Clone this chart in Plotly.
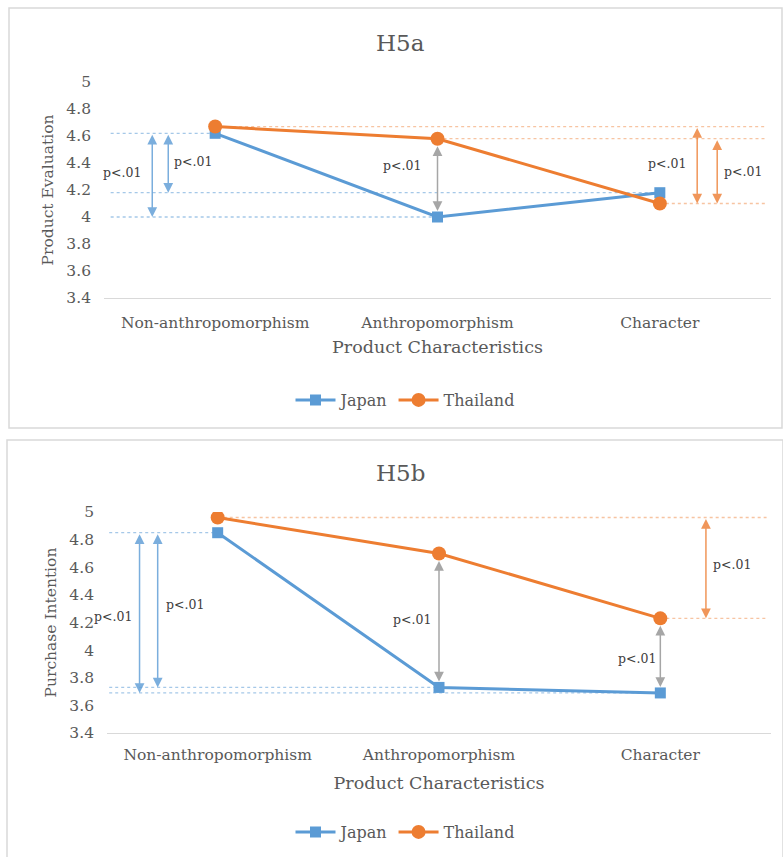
import plotly.graph_objects as go

# ---------------- data ----------------
categories = ["Non-anthropomorphism", "Anthropomorphism", "Character"]
japan_eval = [4.62, 4.00, 4.18]
thailand_eval = [4.67, 4.58, 4.10]
japan_purchase = [4.85, 3.73, 3.69]
thailand_purchase = [4.96, 4.70, 4.23]
y_tick_vals = [3.4, 3.6, 3.8, 4.0, 4.2, 4.4, 4.6, 4.8, 5.0]
y_tick_text = ["3.4", "3.6", "3.8", "4", "4.2", "4.4", "4.6", "4.8", "5"]
series_names = ["Japan", "Thailand"]
panel_titles = ["H5a", "H5b"]
y_titles = ["Product Evaluation", "Purchase Intention"]
x_title = "Product Characteristics"
sig_text = "p<.01"

# ---------------- styling ----------------
W, H = 783, 857
FONT = "DejaVu Serif"
TXT = "#595959"
BLUE = "#5b9bd5"
ORANGE = "#ed7d31"
GREY = "#a6a6a6"
BLUE_DOT = "rgba(91,155,213,0.55)"
ORANGE_DOT = "rgba(237,125,49,0.45)"
BLUE_ARR = "rgba(91,155,213,0.8)"
ORANGE_ARR = "rgba(237,125,49,0.8)"


def xp(px):
    return px / W


def yp(py):
    return 1 - py / H


fig = go.Figure()

panels = [
    dict(xa="x", ya="y", leg="legend", jp=japan_eval, th=thailand_eval),
    dict(xa="x2", ya="y2", leg="legend2", jp=japan_purchase, th=thailand_purchase),
]

for p in panels:
    fig.add_trace(go.Scatter(
        x=categories, y=p["jp"], name=series_names[0], mode="lines+markers",
        line=dict(color=BLUE, width=3), marker=dict(symbol="square", size=11, color=BLUE),
        xaxis=p["xa"], yaxis=p["ya"], legend=p["leg"]))
    fig.add_trace(go.Scatter(
        x=categories, y=p["th"], name=series_names[1], mode="lines+markers",
        line=dict(color=ORANGE, width=3), marker=dict(symbol="circle", size=14, color=ORANGE),
        xaxis=p["xa"], yaxis=p["ya"], legend=p["leg"]))

shapes = []
annotations = []

# panel frames
for (x0, y0, x1, y1) in [(9, 8, 782, 428), (7, 440, 783, 862)]:
    shapes.append(dict(type="rect", xref="paper", yref="paper",
                       x0=xp(x0), x1=xp(x1), y0=yp(y1), y1=yp(y0),
                       line=dict(color="#d9d9d9", width=1.5), fillcolor="white", layer="below"))


def dotted(xa, ya, x0, x1, yv, color):
    shapes.append(dict(type="line", xref=xa, yref=ya, x0=x0, x1=x1, y0=yv, y1=yv,
                       line=dict(color=color, width=1.3, dash="3px,3px"), layer="below"))


def arrow(xa, ya, xv, y_from, y_to, color, stand=0):
    annotations.append(dict(xref=xa, yref=ya, axref=xa, ayref=ya, x=xv, y=y_to, ax=xv, ay=y_from,
                            text="", showarrow=True, arrowside="end+start", arrowhead=2,
                            startarrowhead=2, arrowsize=1.3, startarrowsize=1.3, arrowwidth=1.5,
                            arrowcolor=color, standoff=stand, startstandoff=stand))


def label(xa, ya, xv, yv):
    annotations.append(dict(xref=xa, yref=ya, x=xv, y=yv, text=sig_text, showarrow=False,
                            font=dict(family=FONT, size=12.5, color="#404040")))


RIGHT = 2.48
LEFT_A = -0.47
LEFT_B = -0.49

# ---- panel A (H5a) ----
je, te = japan_eval, thailand_eval
dotted("x", "y", LEFT_A, 0, je[0], BLUE_DOT)
dotted("x", "y", LEFT_A, 2, je[2], BLUE_DOT)
dotted("x", "y", LEFT_A, 1, je[1], BLUE_DOT)
dotted("x", "y", 0, RIGHT, te[0], ORANGE_DOT)
dotted("x", "y", 1, RIGHT, te[1], ORANGE_DOT)
dotted("x", "y", 2, RIGHT, te[2], ORANGE_DOT)
arrow("x", "y", -0.283, je[0], je[1], BLUE_ARR)
arrow("x", "y", -0.211, je[0], je[2], BLUE_ARR)
arrow("x", "y", 1, te[1], je[1], GREY, stand=6)
arrow("x", "y", 2.168, te[0], te[2], ORANGE_ARR)
arrow("x", "y", 2.258, te[1], te[2], ORANGE_ARR)
label("x", "y", -0.418, 4.33)
label("x", "y", -0.099, 4.41)
label("x", "y", 0.84, 4.385)
label("x", "y", 2.03, 4.40)
label("x", "y", 2.375, 4.34)

# ---- panel B (H5b) ----
jp, tp = japan_purchase, thailand_purchase
dotted("x2", "y2", LEFT_B, 0, jp[0], BLUE_DOT)
dotted("x2", "y2", LEFT_B, 1, jp[1], BLUE_DOT)
dotted("x2", "y2", LEFT_B, 2, jp[2], BLUE_DOT)
dotted("x2", "y2", 0, RIGHT, tp[0], ORANGE_DOT)
dotted("x2", "y2", 2, RIGHT, tp[2], ORANGE_DOT)
arrow("x2", "y2", -0.353, jp[0], jp[2], BLUE_ARR)
arrow("x2", "y2", -0.271, jp[0], jp[1], BLUE_ARR)
arrow("x2", "y2", 1, tp[1], jp[1], GREY, stand=6)
arrow("x2", "y2", 2, tp[2], jp[2], GREY, stand=6)
arrow("x2", "y2", 2.206, tp[0], tp[2], ORANGE_ARR)
label("x2", "y2", -0.475, 4.24)
label("x2", "y2", -0.149, 4.33)
label("x2", "y2", 0.877, 4.22)
label("x2", "y2", 1.894, 3.94)
label("x2", "y2", 2.324, 4.62)

# titles
for t, ypx in zip(panel_titles, [43, 473]):
    annotations.append(dict(xref="paper", yref="paper", x=xp(400), y=yp(ypx), text=t,
                            xanchor="center", yanchor="middle",
                            showarrow=False, font=dict(family=FONT, size=23, color=TXT)))

axis_common = dict(showgrid=False, zeroline=False, ticks="", automargin=False,
                   tickfont=dict(family=FONT, size=15.5, color=TXT))


def xaxis_cfg(dom, anchor, tick_standoff, title_standoff):
    return dict(domain=dom, anchor=anchor, range=[-0.5, 2.5], showline=True,
                linecolor="#d9d9d9", linewidth=1, ticklabelstandoff=tick_standoff,
                title=dict(text=x_title, font=dict(family=FONT, size=17.5, color=TXT),
                           standoff=title_standoff),
                **axis_common)


def yaxis_cfg(dom, anchor, title):
    return dict(domain=dom, anchor=anchor, range=[3.4, 5.0], tickvals=y_tick_vals,
                ticktext=y_tick_text, showline=False, ticklabelstandoff=12,
                title=dict(text=title, font=dict(family=FONT, size=15.5, color=TXT), standoff=8),
                **axis_common)


legend_common = dict(orientation="h", xanchor="center", yanchor="middle", itemwidth=40,
                     font=dict(family=FONT, size=16, color=TXT), bgcolor="rgba(0,0,0,0)")

fig.update_layout(
    width=W, height=H, autosize=False,
    margin=dict(l=0, r=0, t=0, b=0, pad=0, autoexpand=False),
    paper_bgcolor="white", plot_bgcolor="rgba(0,0,0,0)",
    font=dict(family=FONT, color=TXT),
    shapes=shapes, annotations=annotations,
    xaxis=xaxis_cfg([xp(104), xp(771)], "y", 10, 10),
    yaxis=yaxis_cfg([yp(298), yp(82)], "x", y_titles[0]),
    xaxis2=xaxis_cfg([xp(107), xp(771)], "y2", 7, 14),
    yaxis2=yaxis_cfg([yp(733), yp(512)], "x2", y_titles[1]),
    legend=dict(x=xp(405), y=yp(400), **legend_common),
    legend2=dict(x=xp(405), y=yp(832), **legend_common),
)

fig.write_html("out.html", config={"displayModeBar": False},
               post_script="document.body.style.margin='0';")
